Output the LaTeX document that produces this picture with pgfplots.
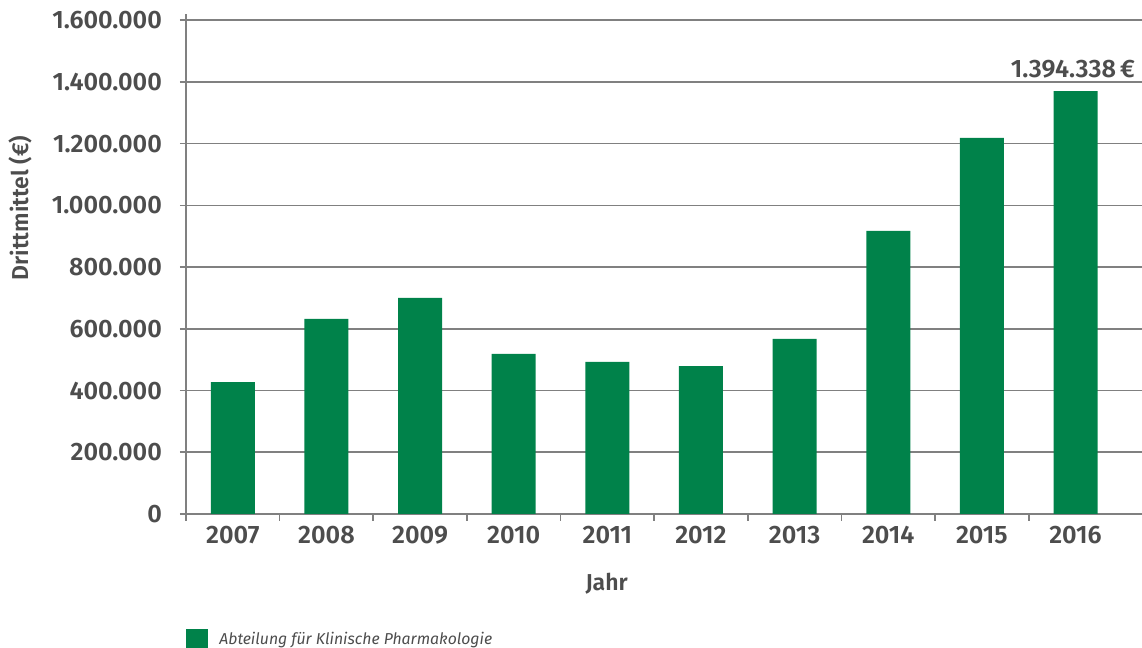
\documentclass[border=0pt]{standalone}
\usepackage{fontspec}
\setmainfont{Fira Sans}[BoldFont={Fira Sans SemiBold},BoldItalicFont={Fira Sans SemiBold Italic}]
\usepackage{pgfplots}
\pgfplotsset{compat=1.18}
\definecolor{barGreen}{HTML}{00824A}
\definecolor{txtGray}{HTML}{4D4D4D}
\definecolor{lineGray}{HTML}{808080}
\begin{document}
\begin{tikzpicture}
\path[use as bounding box] (-93pt,-67pt) rectangle (478pt,257pt);
\begin{axis}[
  at={(0pt,0pt)}, anchor=south west,
  scale only axis, width=478pt, height=250pt,
  xmin=-0.5, xmax=9.71, ymin=0, ymax=1620000,
  axis x line*=bottom, axis y line*=left,
  axis line style={lineGray, line width=0.8pt, -},
  ymajorgrids, grid style={lineGray, line width=0.8pt},
  ytick={0,200000,...,1600000},
  xtick={0,...,9},
  xticklabels={2007,2008,2009,2010,2011,2012,2013,2014,2015,2016},
  minor xtick={-0.5,0.5,...,8.5},
  tick align=outside,
  major x tick style={draw=none},
  minor x tick style={lineGray, line width=0.8pt},
  minor tick length=3.5pt,
  major tick length=3pt,
  ytick style={lineGray, line width=0.8pt},
  scaled y ticks=false,
  /pgf/number format/.cd, 1000 sep={.}, fixed, assume math mode=true,
  /pgfplots/.cd,
  tick label style={font=\fontsize{12.6}{14}\selectfont\bfseries, text=txtGray},
  yticklabel style={xshift=-5.5pt},
  xticklabel style={yshift=0.5pt},
  xlabel={Jahr},
  xlabel style={font=\fontsize{11.5}{13}\selectfont\bfseries, text=txtGray, at={(axis description cs:0.44,0)}, anchor=base, yshift=-38pt},
  ylabel={Drittmittel (€)},
  ylabel style={font=\fontsize{11.5}{13}\selectfont\bfseries, text=txtGray, at={(axis description cs:-0.1736,0.612)}, anchor=center},
  legend style={at={(rel axis cs:0,0)}, anchor=north west, yshift=-57pt, draw=none, fill=none, inner sep=0pt,
    font=\fontsize{7.9}{9.5}\selectfont\itshape, text=txtGray, legend cell align=left,
    nodes={inner xsep=5.5pt}},
  legend image code/.code={\fill[barGreen] (0pt,-5.5pt) rectangle (11pt,5.5pt);},
  clip=false,
]
\addplot[ybar, bar width=22pt, fill=barGreen, draw=none, bar shift=0pt] coordinates {
  (0,427000) (1,632000) (2,700000) (3,519000) (4,493000)
  (5,479000) (6,567000) (7,917000) (8,1219000) (9,1370000)
};
\addlegendentry{Abteilung für Klinische Pharmakologie}
\node[anchor=base east, font=\fontsize{12.6}{14}\selectfont\bfseries, text=txtGray, inner sep=0pt] at (axis cs:9.64,1413000) {1.394.338\,€};
\end{axis}
\end{tikzpicture}
\end{document}
